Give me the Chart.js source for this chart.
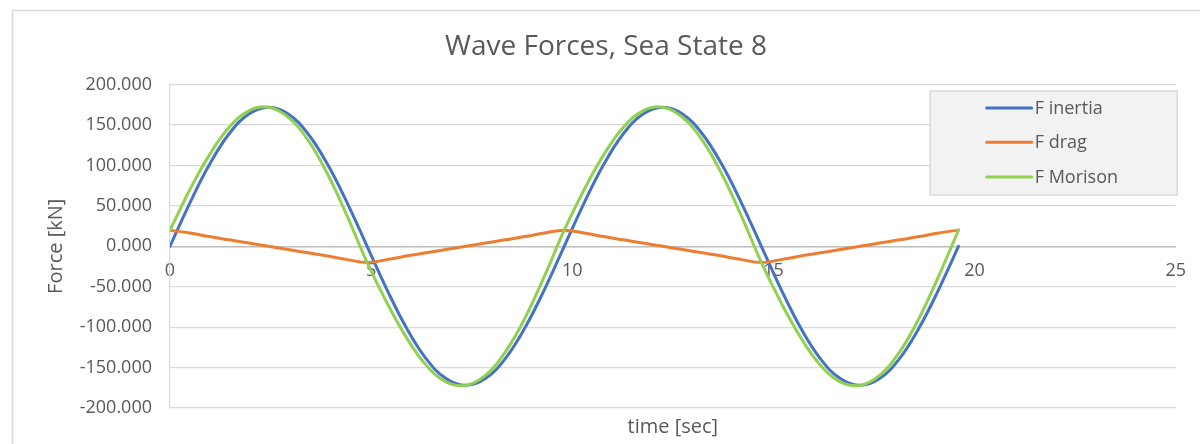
<!DOCTYPE html>
<html>
<head>
<meta charset="utf-8">
<title>Wave Forces, Sea State 8</title>
<script src="https://cdn.jsdelivr.net/npm/chart.js@4.4.1/dist/chart.umd.min.js"></script>
<style>
  html, body { margin: 0; padding: 0; background: #ffffff; }
  #wrap { width: 1200px; height: 444px; position: relative; }
</style>
</head>
<body>
<div id="wrap"><canvas id="c" width="1200" height="444"></canvas></div>
<script>
// Sample times [sec]
const timeSec = [
  0, 0.49, 0.98, 1.47, 1.96, 2.45, 2.94, 3.43, 3.92, 4.41,
  4.9, 5.39, 5.88, 6.37, 6.86, 7.35, 7.84, 8.33, 8.82, 9.31,
  9.8, 10.29, 10.78, 11.27, 11.76, 12.25, 12.74, 13.23, 13.72, 14.21,
  14.7, 15.19, 15.68, 16.17, 16.66, 17.15, 17.64, 18.13, 18.62, 19.11, 19.6
];

// Inertia force [kN]
const fInertia = [
  0, 53.2, 101.1, 139.2, 163.6, 172.0, 163.6, 139.2, 101.1, 53.2,
  0, -53.2, -101.1, -139.2, -163.6, -172.0, -163.6, -139.2, -101.1, -53.2,
  0, 53.2, 101.1, 139.2, 163.6, 172.0, 163.6, 139.2, 101.1, 53.2,
  0, -53.2, -101.1, -139.2, -163.6, -172.0, -163.6, -139.2, -101.1, -53.2, 0
];

// Drag force [kN]
const fDrag = [
  20, 16.5, 12, 8, 4, 0, -4, -8, -12, -16.5,
  -20, -16.5, -12, -8, -4, 0, 4, 8, 12, 16.5,
  20, 16.5, 12, 8, 4, 0, -4, -8, -12, -16.5,
  -20, -16.5, -12, -8, -4, 0, 4, 8, 12, 16.5, 20
];

// Morison force [kN] (inertia + drag)
const fMorison = [
  20, 69.7, 113.1, 147.2, 167.6, 172.0, 159.6, 131.2, 89.1, 36.7,
  -20, -69.7, -113.1, -147.2, -167.6, -172.0, -159.6, -131.2, -89.1, -36.7,
  20, 69.7, 113.1, 147.2, 167.6, 172.0, 159.6, 131.2, 89.1, 36.7,
  -20, -69.7, -113.1, -147.2, -167.6, -172.0, -159.6, -131.2, -89.1, -36.7, 20
];

const seriesNames = ['F inertia', 'F drag', 'F Morison'];
const yTicks = [-200, -150, -100, -50, 0, 50, 100, 150, 200];
const xTicks = [0, 5, 10, 15, 20, 25];

const TEXT = '#595959';
const GRID = '#d9d9d9';
Chart.defaults.font.family = "'Open Sans', 'DejaVu Sans', sans-serif";
Chart.defaults.color = TEXT;

const toXY = (ys) => ys.map((v, i) => ({ x: timeSec[i], y: v }));

// Thin frame around the whole chart
const framePlugin = {
  id: 'frame',
  beforeDraw(chart) {
    const ctx = chart.ctx;
    ctx.save();
    ctx.fillStyle = '#ffffff';
    ctx.fillRect(0, 0, chart.width, chart.height);
    ctx.strokeStyle = GRID;
    ctx.lineWidth = 1.5;
    ctx.strokeRect(12.5, 10.5, chart.width + 20, chart.height + 20);
    ctx.restore();
  }
};

// Legend box drawn inside the plot area, top right
const insetLegend = {
  id: 'insetLegend',
  afterDatasetsDraw(chart) {
    const ctx = chart.ctx;
    const a = chart.chartArea;
    const bx = a.right - 246, by = a.top + 6, bw = 247, bh = 104;
    ctx.save();
    ctx.fillStyle = '#f2f2f2';
    ctx.fillRect(bx, by, bw, bh);
    ctx.strokeStyle = GRID;
    ctx.lineWidth = 1.5;
    ctx.strokeRect(bx + 0.5, by + 0.5, bw, bh);
    const rows = [17.3, 51.7, 86.3];
    const byName = {};
    chart.data.datasets.forEach(d => { byName[d.label] = d; });
    seriesNames.forEach((name, i) => {
      const d = byName[name];
      const yy = by + rows[i];
      ctx.strokeStyle = d.borderColor;
      ctx.lineWidth = 3;
      ctx.lineCap = 'round';
      ctx.beginPath();
      ctx.moveTo(bx + 57, yy);
      ctx.lineTo(bx + 102, yy);
      ctx.stroke();
      ctx.fillStyle = TEXT;
      ctx.font = "18px 'Open Sans'";
      ctx.textBaseline = 'middle';
      ctx.textAlign = 'left';
      ctx.fillText(name, bx + 105, yy + 1);
    });
    ctx.restore();
  }
};

const chart = new Chart(document.getElementById('c'), {
  type: 'line',
  data: {
    datasets: [
      { label: seriesNames[0], data: toXY(fInertia), borderColor: '#4472c4', order: 2 },
      { label: seriesNames[1], data: toXY(fDrag), borderColor: '#ed7d31', order: 1 },
      { label: seriesNames[2], data: toXY(fMorison), borderColor: '#92d050', order: 0 }
    ]
  },
  options: {
    responsive: false,
    animation: false,
    devicePixelRatio: 1,
    layout: { padding: { left: 12, right: 0, top: 0, bottom: 0 } },
    elements: {
      line: { borderWidth: 3, tension: 0.4, fill: false, borderCapStyle: 'round' },
      point: { radius: 0, hoverRadius: 0 }
    },
    plugins: {
      legend: { display: false },
      tooltip: { enabled: false },
      title: {
        display: true,
        text: 'Wave Forces, Sea State 8',
        color: TEXT,
        font: { size: 28, weight: 'normal' },
        padding: { top: 30, bottom: 21 }
      }
    },
    scales: {
      x: {
        type: 'linear',
        position: { y: 0 },
        min: 0, max: 25,
        afterBuildTicks(scale) { scale.ticks = xTicks.map(v => ({ value: v })); },
        ticks: { font: { size: 18 }, padding: 14, color: TEXT, maxRotation: 0 },
        grid: { display: false, drawTicks: false },
        border: { display: true, color: '#bfbfbf', width: 1.5 }
      },
      x2: {
        type: 'linear',
        position: 'bottom',
        min: 0, max: 25,
        ticks: { display: false },
        grid: { display: false, drawTicks: false },
        border: { display: false },
        title: { display: true, text: 'time [sec]', color: TEXT, font: { size: 20 }, padding: { top: 0, bottom: 5 } },
        afterFit(scale) { scale.height = 36; }
      },
      y: {
        type: 'linear',
        position: 'left',
        min: -200, max: 200,
        afterBuildTicks(scale) { scale.ticks = yTicks.map(v => ({ value: v })); },
        ticks: { font: { size: 18 }, padding: 18, color: TEXT, callback: v => v.toFixed(3) },
        grid: { color: GRID, lineWidth: 1.2, drawTicks: false },
        border: { display: true, color: GRID, width: 1.2 },
        title: { display: true, text: 'Force [kN]', color: TEXT, font: { size: 20 }, padding: { top: 32, bottom: 0 } },
        afterFit(scale) { scale.width = 158; }
      },
      yRight: {
        type: 'linear',
        position: 'right',
        min: -200, max: 200,
        ticks: { display: false },
        grid: { display: false, drawTicks: false },
        border: { display: false },
        afterFit(scale) { scale.width = 24; }
      }
    }
  },
  plugins: [framePlugin, insetLegend]
});
</script>
</body>
</html>
